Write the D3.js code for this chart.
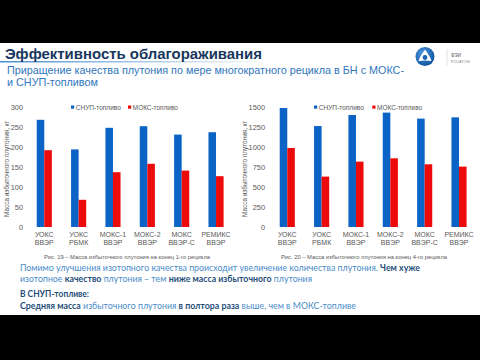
<!DOCTYPE html>
<html><head><meta charset="utf-8">
<script src="https://cdn.jsdelivr.net/npm/d3@7"></script>
<style>html,body{margin:0;padding:0;background:#000;}svg{display:block;}</style>
</head><body>
<svg id="c" width="480" height="360"></svg>
<script>
const categories = ["УОКС ВВЭР", "УОКС РБМК", "МОКС-1 ВВЭР", "МОКС-2 ВВЭР", "МОКС ВВЭР-С", "РЕМИКС ВВЭР"];
const seriesNames = ["СНУП-топливо", "МОКС-топливо"];
const snupCycle1 = [268, 194, 248, 252, 231, 237];
const moxCycle1 = [192, 68, 137, 158, 141, 127];
const snupCycle4 = [1487, 1262, 1400, 1430, 1355, 1371];
const moxCycle4 = [988, 630, 817, 859, 784, 755];
const ticksCycle1 = [0, 50, 100, 150, 200, 250, 300];
const ticksCycle4 = [0, 250, 500, 750, 1000, 1250, 1500];
const yTitle = "Масса избыточного плутония, кг";
const caption1 = "Рис. 19 – Масса избыточного плутония на конец 1-го рецикла";
const caption4 = "Рис. 20 – Масса избыточного плутония на конец 4-го рецикла";
const colors = ["#0b63c5", "#ec0a0a"];

const svg = d3.select("#c");
svg.append("rect").attr("width", 480).attr("height", 360).attr("fill", "#000");
svg.append("rect").attr("x", 0).attr("y", 43).attr("width", 480).attr("height", 272).attr("fill", "#fff");

// Header
const defs = svg.append("defs");
const lg = defs.append("linearGradient").attr("id", "ul");
lg.append("stop").attr("offset", "0%").attr("stop-color", "#4f8fd0").attr("stop-opacity", 1);
lg.append("stop").attr("offset", "100%").attr("stop-color", "#4f8fd0").attr("stop-opacity", 0);
svg.append("rect").attr("x", 0).attr("y", 61).attr("width", 275).attr("height", 1.5).attr("fill", "url(#ul)");

svg.append("text").attr("x", 5).attr("y", 59)
  .attr("font-family", "Liberation Sans, Arial, sans-serif").attr("font-weight", "bold")
  .attr("font-size", 14.5).attr("fill", "#17375e")
  .attr("textLength", 257).attr("lengthAdjust", "spacingAndGlyphs")
  .text("Эффективность облагораживания");

const sub = ["Приращение качества плутония по мере многократного рецикла в БН с МОКС-", "и СНУП-топливом"];
svg.append("text").attr("x", 7).attr("y", 73.5)
  .attr("font-family", "Liberation Sans, Arial, sans-serif").attr("font-size", 10.8).attr("fill", "#2f76bd")
  .attr("textLength", 397).attr("lengthAdjust", "spacingAndGlyphs").text(sub[0]);
svg.append("text").attr("x", 7).attr("y", 86)
  .attr("font-family", "Liberation Sans, Arial, sans-serif").attr("font-size", 10.8).attr("fill", "#2f76bd")
  .text(sub[1]);

// Logo
const rg = defs.append("radialGradient").attr("id", "lg").attr("cx", "40%").attr("cy", "35%").attr("r", "70%");
rg.append("stop").attr("offset", "0%").attr("stop-color", "#4f9be0");
rg.append("stop").attr("offset", "100%").attr("stop-color", "#0b4f9c");
svg.append("circle").attr("cx", 425).attr("cy", 56.5).attr("r", 9.5).attr("fill", "url(#lg)");
svg.append("path").attr("d", "M425,49.5 Q431,58 431.5,61 Q425,60 418.5,61 Q419,58 425,49.5Z").attr("fill", "#fff");
svg.append("circle").attr("cx", 425).attr("cy", 57.5).attr("r", 2.4).attr("fill", "#1a62b3");
svg.append("line").attr("x1", 447).attr("x2", 447).attr("y1", 49).attr("y2", 66).attr("stroke", "#ccc").attr("stroke-width", 0.6);
svg.append("text").attr("x", 451).attr("y", 57).attr("font-family", "Liberation Sans, Arial").attr("font-size", 4.5).attr("fill", "#555").text("ФЭИ");
svg.append("text").attr("x", 451).attr("y", 63).attr("font-family", "Liberation Sans, Arial").attr("font-size", 3.8).attr("fill", "#888").text("РОСАТОМ");

function drawChart(opts) {
  const g = svg.append("g");
  const y = d3.scaleLinear().domain([opts.ticks[0], opts.ticks[opts.ticks.length - 1]]).range([227, 107]);
  const x0 = d3.scaleBand().domain(categories).range([opts.x0, opts.x1]).paddingInner(0.56).paddingOuter(0.28);
  const x1 = d3.scaleBand().domain(seriesNames).range([0, x0.bandwidth()]);
  const yAxis = d3.axisLeft(y).tickValues(opts.ticks).tickFormat(d3.format("d")).tickSize(0).tickPadding(3);
  const ag = g.append("g").attr("transform", `translate(${opts.axisX},0)`).call(yAxis);
  ag.select(".domain").remove();
  ag.selectAll("text").attr("font-family", "Liberation Sans, Arial, sans-serif").attr("font-size", 7.4).attr("fill", "#595959");

  const data = categories.map((c, i) => ({ c, v: [opts.a[i], opts.b[i]] }));
  const grp = g.selectAll("g.grp").data(data).join("g").attr("class", "grp")
    .attr("transform", d => `translate(${x0(d.c)},0)`);
  grp.selectAll("rect").data(d => d.v.map((v, k) => ({ s: seriesNames[k], v, k })))
    .join("rect")
    .attr("x", d => x1(d.s)).attr("width", x1.bandwidth())
    .attr("y", d => y(d.v)).attr("height", d => y(0) - y(d.v))
    .attr("fill", d => colors[d.k]);

  // category labels
  const cl = g.selectAll("text.cat").data(categories).join("text").attr("class", "cat")
    .attr("text-anchor", "middle").attr("font-family", "Liberation Sans, Arial, sans-serif")
    .attr("font-size", 7).attr("fill", "#595959");
  cl.each(function (c) {
    const parts = c.split(" ");
    const t = d3.select(this);
    parts.forEach((p, i) => {
      t.append("tspan").attr("x", x0(c) + x0.bandwidth() / 2).attr("y", 237 + i * 7.8).text(p);
    });
  });

  // y title
  g.append("text").attr("transform", `translate(${opts.titleX},169) rotate(-90)`)
    .attr("text-anchor", "middle").attr("font-family", "Liberation Sans, Arial, sans-serif")
    .attr("font-size", 6.3).attr("fill", "#595959")
    .attr("textLength", 96).attr("lengthAdjust", "spacingAndGlyphs").text(yTitle);

  // legend
  const lgd = g.selectAll("g.lg").data(seriesNames).join("g").attr("class", "lg")
    .attr("transform", (d, i) => `translate(${opts.legX[i]},0)`);
  lgd.append("rect").attr("x", 0).attr("y", 105.5).attr("width", 3.2).attr("height", 3.2).attr("fill", (d, i) => colors[i]);
  lgd.append("text").attr("x", 4.8).attr("y", 109.6).attr("font-family", "Liberation Sans, Arial, sans-serif")
    .attr("font-size", 6.8).attr("fill", "#595959")
    .attr("textLength", 45).attr("lengthAdjust", "spacingAndGlyphs").text(d => d);

  // caption
  g.append("text").attr("x", opts.capX).attr("y", 258.5).attr("text-anchor", "middle")
    .attr("font-family", "Liberation Sans, Arial, sans-serif").attr("font-size", 5.2).attr("fill", "#595959")
    .attr("textLength", 166).attr("lengthAdjust", "spacingAndGlyphs").text(opts.caption);
}

drawChart({ a: snupCycle1, b: moxCycle1, ticks: ticksCycle1, x0: 27.1, x1: 233.2, axisX: 26, titleX: 9, legX: [71, 128], capX: 127, caption: caption1 });
drawChart({ a: snupCycle4, b: moxCycle4, ticks: ticksCycle4, x0: 270.1, x1: 476.2, axisX: 268, titleX: 247, legX: [314, 372.3], capX: 364, caption: caption4 });

// Body text
const light = "#4a8bc9", dark = "#1f4e79";
const bodyLines = [
  { y: 271, w: 400, parts: [["Помимо улучшения изотопного качества происходит увеличение количества плутония. ", 0], ["Чем хуже", 1]] },
  { y: 281.5, w: 292, parts: [["изотопное ", 0], ["качество", 1], [" плутония – тем ", 0], ["ниже масса избыточного", 1], [" плутония", 0]] },
  { y: 297.3, w: 69, parts: [["В СНУП-топливе:", 1]] },
  { y: 308.8, w: 336, parts: [["Средняя масса", 1], [" избыточного плутония ", 0], ["в полтора раза", 1], [" выше, чем в МОКС-топливе", 0]] }
];
bodyLines.forEach(l => {
  const t = svg.append("text").attr("x", 20).attr("y", l.y)
    .attr("font-family", "Lato, 'Open Sans', sans-serif").attr("font-size", 8.8)
    .attr("textLength", l.w).attr("lengthAdjust", "spacingAndGlyphs")
    .attr("xml:space", "preserve").style("white-space", "pre");
  l.parts.forEach(p => {
    t.append("tspan").attr("fill", p[1] ? dark : light).attr("font-weight", p[1] ? "bold" : "normal").text(p[0]);
  });
});
</script>
</body></html>
